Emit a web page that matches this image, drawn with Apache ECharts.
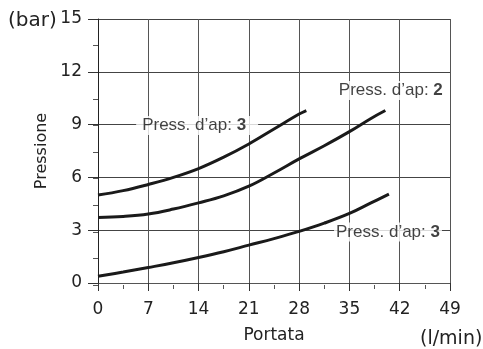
<!DOCTYPE html>
<html>
<head>
<meta charset="utf-8">
<script src="https://cdn.jsdelivr.net/npm/echarts@6/dist/echarts.min.js"></script>
<style>html,body{margin:0;padding:0;background:#fff}#c{width:483px;height:349px}</style>
</head>
<body>
<div id="c"></div>
<script>
// Curve A (top, Press. d'ap 3)
const curveA = [[0,5.0],[3.5,5.25],[7,5.6],[10.5,6.0],[14,6.5],[17.5,7.15],[21,7.9],[24.5,8.75],[28,9.6],[29,9.8]];
// Curve B (middle, Press. d'ap 2)
const curveB = [[0,3.72],[3.5,3.78],[7,3.92],[10.5,4.2],[14,4.55],[17.5,4.95],[21,5.5],[24.5,6.25],[28,7.05],[31.5,7.8],[35,8.6],[38,9.35],[40,9.8]];
// Curve C (bottom, Press. d'ap 3)
const curveC = [[0,0.38],[3.5,0.62],[7,0.88],[10.5,1.15],[14,1.45],[17.5,1.78],[21,2.15],[24.5,2.52],[28,2.93],[31.5,3.4],[35,3.95],[38,4.55],[40.5,5.05]];
// Label anchors: [x, y, value]
const labelLeft = [[13.8,8.95,'3']];
const labelRight = [[40.76,10.94,'2'],[40.37,2.9,'3']];
const xMin = 0, xMax = 49, xInterval = 7, xMinorInterval = 3.5;
const yMin = 0, yMax = 15, yInterval = 3, yMinorInterval = 1.5;
const labelPrefix = 'Press. d’ap: ';

const chart = echarts.init(document.getElementById('c'));
const lineStyle = {color:'#1a1a1a', width:3};
const tickFont = {fontFamily:'DejaVu Sans', fontSize:17, color:'#222'};
const gridRect = {left:98, right:33, top:19, bottom:64, containLabel:false};
const rich = {a:{fontFamily:'Liberation Sans', fontSize:17, color:'#111'}, b:{fontFamily:'Liberation Sans', fontSize:17, fontWeight:'bold', color:'#111'}};
const fmt = function(p){return '{a|'+labelPrefix+'}{b|'+p.value[2]+'}';};
chart.setOption({
  animation:false,
  grid:[Object.assign({}, gridRect), Object.assign({}, gridRect)],
  xAxis:[{
    type:'value', gridIndex:0, min:xMin, max:xMax, interval:xInterval,
    name:'Portata', nameLocation:'middle', nameGap:44,
    nameTextStyle:{fontFamily:'DejaVu Sans', fontSize:17, color:'#222'},
    axisLine:{show:true, lineStyle:{color:'#555', width:1}},
    axisTick:{show:true, length:8, lineStyle:{color:'#333'}},
    axisLabel:Object.assign({margin:18}, tickFont),
    splitLine:{show:true, lineStyle:{color:'#555', width:1}},
    z:2
  },{
    type:'value', gridIndex:1, min:xMin, max:xMax, interval:xMinorInterval,
    axisLine:{show:false}, axisLabel:{show:false}, splitLine:{show:false},
    axisTick:{show:true, length:4, lineStyle:{color:'#555'}}
  }],
  yAxis:[{
    type:'value', gridIndex:0, min:yMin, max:yMax, interval:yInterval,
    name:'Pressione', nameLocation:'middle', nameGap:40, nameRotate:90,
    nameTextStyle:{fontFamily:'DejaVu Sans', fontSize:16, color:'#222'},
    axisLine:{show:true, lineStyle:{color:'#222', width:1}},
    axisTick:{show:true, length:10, lineStyle:{color:'#333'}},
    axisLabel:Object.assign({margin:16}, tickFont),
    splitLine:{show:true, lineStyle:{color:'#444', width:1}},
    z:2
  },{
    type:'value', gridIndex:1, min:yMin, max:yMax, interval:yMinorInterval,
    axisLine:{show:false}, axisLabel:{show:false}, splitLine:{show:false},
    axisTick:{show:true, length:5, lineStyle:{color:'#555'}}
  }],
  graphic:[
    {type:'text', left:8, top:11, style:{text:'(bar)', fontFamily:'DejaVu Sans', fontSize:20, fill:'#222'}},
    {type:'text', left:420, top:330, style:{text:'(l/min)', fontFamily:'DejaVu Sans', fontSize:19, fill:'#222'}}
  ],
  series:[
    {type:'line', data:curveA, smooth:0.4, showSymbol:false, lineStyle:lineStyle, z:3},
    {type:'line', data:curveB, smooth:0.4, showSymbol:false, lineStyle:lineStyle, z:3},
    {type:'line', data:curveC, smooth:0.4, showSymbol:false, lineStyle:lineStyle, z:3},
    {type:'scatter', data:labelLeft, symbolSize:1, itemStyle:{color:'rgba(0,0,0,0)'}, z:4, silent:true,
      label:{show:true, position:'inside', backgroundColor:'#fff', padding:[1,12,1,6], formatter:fmt, rich:rich}},
    {type:'scatter', data:labelRight, symbolSize:1, itemStyle:{color:'rgba(0,0,0,0)'}, z:4, silent:true,
      label:{show:true, position:'inside', backgroundColor:'#fff', padding:[1,2,1,2], formatter:fmt, rich:rich}}
  ]
});
</script>
</body>
</html>
